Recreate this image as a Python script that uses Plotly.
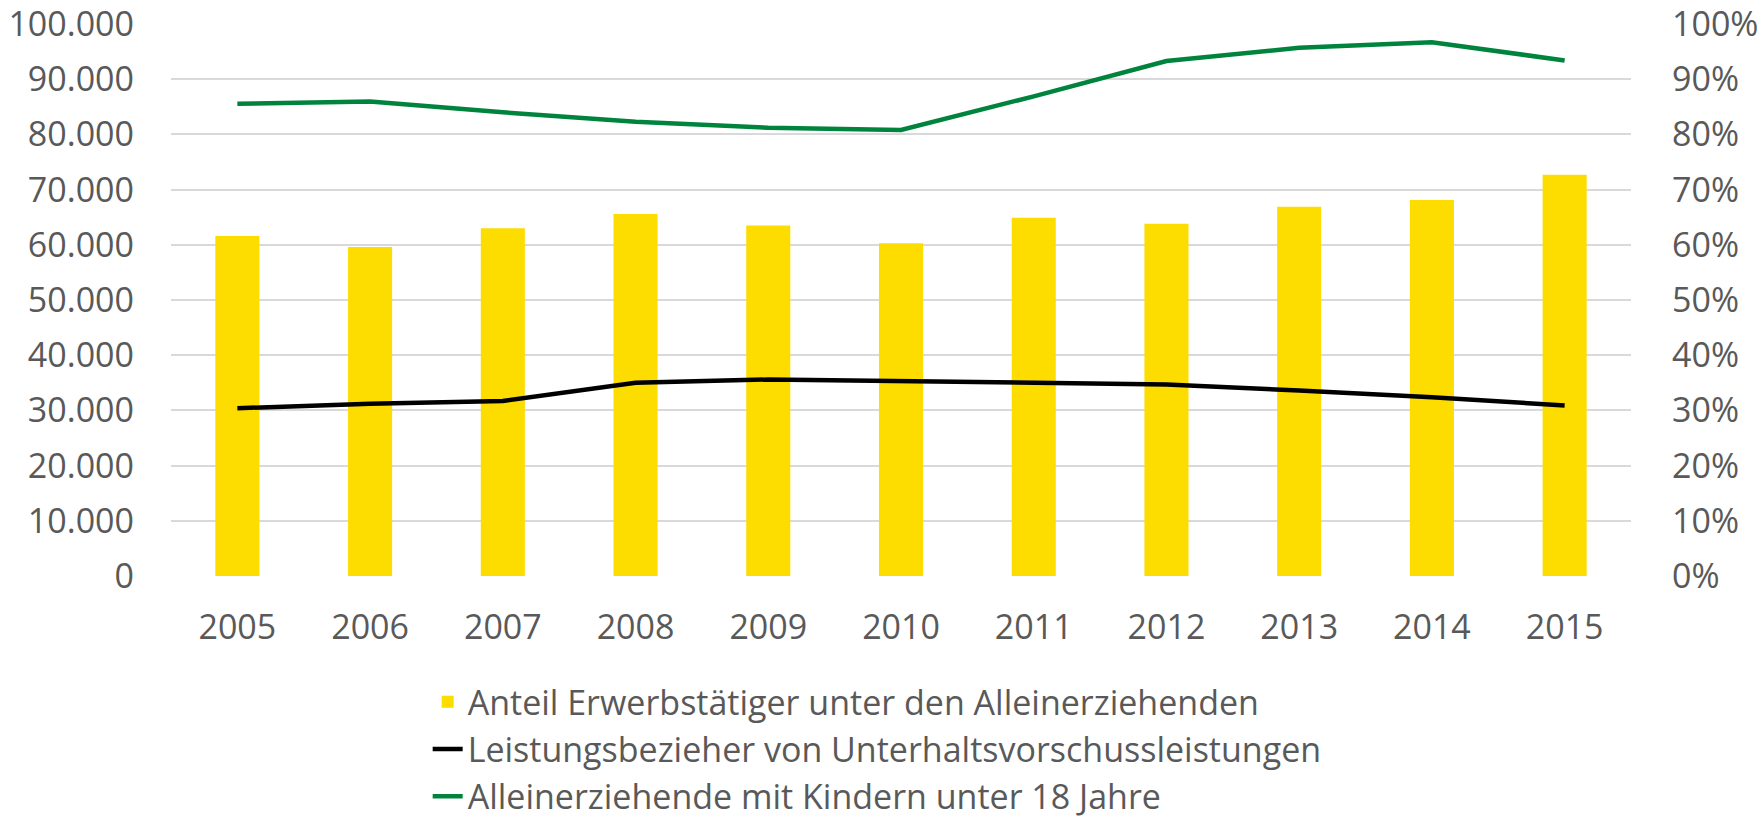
import plotly.graph_objects as go

years = ["2005", "2006", "2007", "2008", "2009", "2010", "2011", "2012", "2013", "2014", "2015"]
anteil_erwerbstaetiger = [0.616, 0.596, 0.630, 0.656, 0.635, 0.603, 0.649, 0.638, 0.669, 0.681, 0.727]
leistungsbezieher_uvg = [30400, 31200, 31700, 35000, 35600, 35300, 35000, 34700, 33600, 32400, 30900]
alleinerziehende_u18 = [85550, 85970, 84000, 82300, 81200, 80800, 86900, 93300, 95700, 96700, 93400]

name_bar = "Anteil Erwerbstätiger unter den Alleinerziehenden"
name_black = "Leistungsbezieher von Unterhaltsvorschussleistungen"
name_green = "Alleinerziehende mit Kindern unter 18 Jahre"

FONT = "Open Sans"
GREY = "#595959"

fig = go.Figure()
fig.add_trace(go.Bar(x=years, y=anteil_erwerbstaetiger, name=name_bar,
                     marker=dict(color="#FDDC00", line=dict(width=0)), yaxis="y"))
fig.add_trace(go.Scatter(x=years, y=leistungsbezieher_uvg, name=name_black, mode="lines",
                         line=dict(color="#000000", width=4.5), yaxis="y2"))
fig.add_trace(go.Scatter(x=years, y=alleinerziehende_u18, name=name_green, mode="lines",
                         line=dict(color="#00843D", width=4.5), yaxis="y2"))

fig.update_layout(
    width=1759, height=822,
    margin=dict(l=171, r=128, t=24, b=246, autoexpand=False),
    paper_bgcolor="white", plot_bgcolor="white",
    separators=",.",
    bargap=0.668,
    font=dict(family=FONT, color=GREY, size=34),
    showlegend=True,
    legend=dict(orientation="v", x=0.1758, xanchor="left", y=-0.176, yanchor="top",
                font=dict(family=FONT, size=34, color=GREY), tracegroupgap=0,
                bgcolor="rgba(0,0,0,0)"),
    xaxis=dict(type="category", showgrid=False, showline=False, zeroline=False,
               ticks="", tickfont=dict(size=34, color=GREY), ticklabelstandoff=28),
    yaxis=dict(side="right", range=[0, 1], dtick=0.1, tickformat=".0%",
               showgrid=True, gridcolor="#D9D9D9", gridwidth=1.5, zeroline=False,
               showline=False, ticks="", tickfont=dict(size=34, color=GREY),
               ticklabelstandoff=40, ticklabeloverflow="allow"),
    yaxis2=dict(side="left", overlaying="y", range=[0, 100000], dtick=10000,
                tickformat=",d", showgrid=False, zeroline=False, showline=False,
                ticks="", tickfont=dict(size=34, color=GREY), ticklabelstandoff=36,
                ticklabeloverflow="allow"),
)

fig.write_html("out.html", config={"displayModeBar": False},
               post_script="document.body.style.margin='0';")
